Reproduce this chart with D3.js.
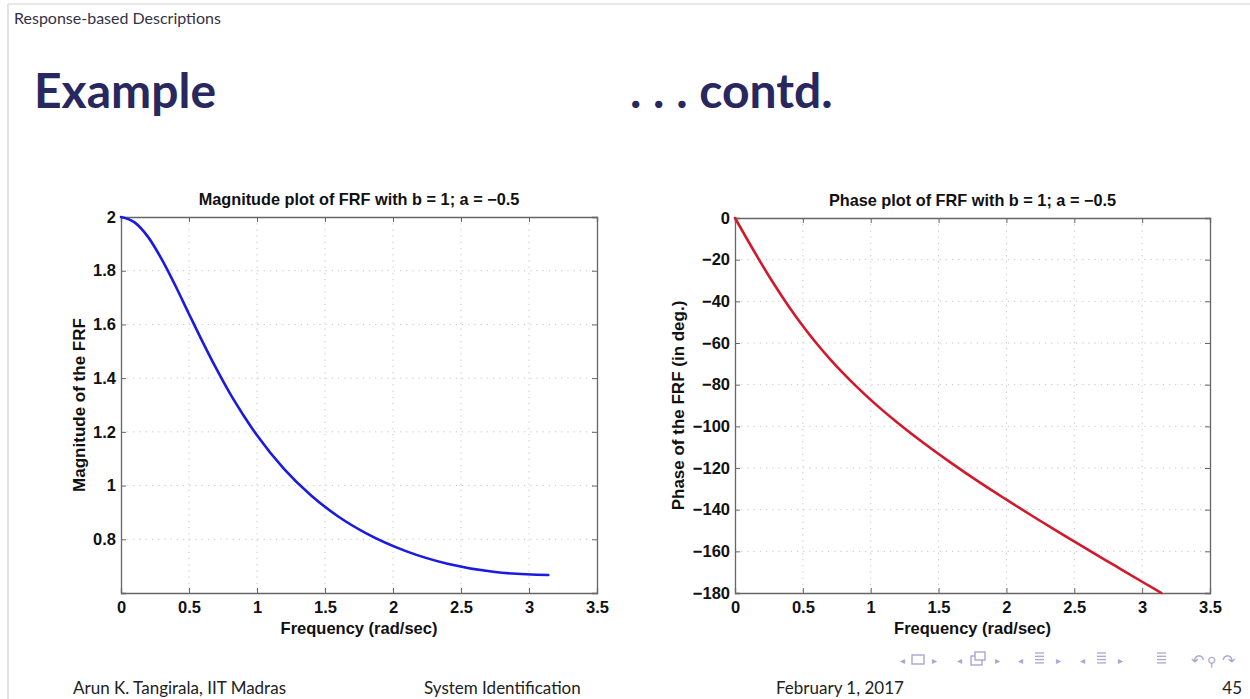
<!DOCTYPE html>
<html>
<head>
<meta charset="utf-8">
<script src="https://cdn.jsdelivr.net/npm/d3@7"></script>
<style>
  html, body { margin: 0; padding: 0; background: #fff; }
  svg { display: block; }
</style>
</head>
<body>
<svg id="chart" width="1250" height="699"></svg>
<script>
// ---------- data ----------
const freq = [0, 0.1, 0.2, 0.3, 0.4, 0.5, 0.6, 0.7, 0.8, 0.9, 1.0, 1.2, 1.4, 1.6, 1.8, 2.1, 2.4, 2.75, 3.1416];
const magnitude = [2.0, 1.98, 1.925, 1.842, 1.744, 1.639, 1.535, 1.436, 1.344, 1.262, 1.187, 1.061, 0.962, 0.884, 0.823, 0.755, 0.709, 0.678, 0.667];

const phaseFreq = [0, 0.1, 0.2, 0.3, 0.4, 0.5, 0.6, 0.7, 0.8, 0.9, 1.0, 1.2, 1.4, 1.6, 1.8, 2.0, 2.2, 2.4, 2.6, 2.8, 3.0, 3.1416];
const phase = [0, -11.4, -22.5, -33.0, -42.8, -51.8, -60.1, -67.7, -74.7, -81.2, -87.3, -98.4, -108.5, -117.9, -126.8, -135.2, -143.4, -151.4, -159.2, -166.9, -174.6, -180];

const xTicks = [0, 0.5, 1, 1.5, 2, 2.5, 3, 3.5];
const magTicks = [0.8, 1, 1.2, 1.4, 1.6, 1.8, 2];
const phaseTicks = [0, -20, -40, -60, -80, -100, -120, -140, -160, -180];

const svg = d3.select("#chart");
const plotFont = "'Liberation Sans', Arial, Helvetica, sans-serif";
const slideFont = "Lato, 'Open Sans', 'DejaVu Sans', sans-serif";

// ---------- slide frame ----------
svg.append("line").attr("x1", 8).attr("x2", 8).attr("y1", 4).attr("y2", 699)
  .attr("stroke", "#d8d8d8").attr("stroke-width", 1.5);
svg.append("line").attr("x1", 8).attr("x2", 1250).attr("y1", 4).attr("y2", 4)
  .attr("stroke", "#e2e2e2").attr("stroke-width", 1.5);

svg.append("text").attr("x", 14).attr("y", 24).text("Response-based Descriptions")
  .attr("font-family", slideFont).attr("font-size", 16).attr("fill", "#333345");

svg.append("text").attr("x", 34).attr("y", 108).text("Example")
  .attr("font-family", slideFont).attr("font-weight", "bold").attr("font-size", 48).attr("fill", "#28285e");
svg.append("text").attr("x", 630).attr("y", 108).text(". . . contd.")
  .attr("font-family", slideFont).attr("font-weight", "bold").attr("font-size", 48).attr("fill", "#28285e");

// footer
const footer = [["Arun K. Tangirala, IIT Madras", 73], ["System Identification", 424], ["February 1, 2017", 776]];
footer.forEach(f => svg.append("text").attr("x", f[1]).attr("y", 694).text(f[0])
  .attr("font-family", slideFont).attr("font-size", 17).attr("fill", "#222"));
svg.append("text").attr("x", 1242).attr("y", 694).attr("text-anchor", "end").text("45")
  .attr("font-family", slideFont).attr("font-size", 17).attr("fill", "#222");

// navigation symbols
const navCol = "#aaa5d2";
const nav = svg.append("g").attr("font-family", "'DejaVu Sans', sans-serif").attr("fill", navCol);
[["◂", 900], ["▸", 932], ["◂", 957], ["▸", 995], ["◂", 1018], ["▸", 1056], ["◂", 1080], ["▸", 1118]].forEach(d =>
  nav.append("text").attr("x", d[1]).attr("y", 664).text(d[0]).attr("font-size", 10));
nav.append("rect").attr("x", 912).attr("y", 655).attr("width", 12).attr("height", 9).attr("fill", "none").attr("stroke", navCol).attr("stroke-width", 1.4);
nav.append("rect").attr("x", 971).attr("y", 656).attr("width", 11).attr("height", 9).attr("fill", "none").attr("stroke", navCol).attr("stroke-width", 1.4);
nav.append("rect").attr("x", 975).attr("y", 652).attr("width", 10).attr("height", 8).attr("fill", "#fff").attr("stroke", navCol).attr("stroke-width", 1.4);
[1035, 1097, 1157].forEach(x => {
  for (let i = 0; i < 4; i++) nav.append("line").attr("x1", x).attr("x2", x + 9).attr("y1", 653 + i * 3.3).attr("y2", 653 + i * 3.3)
    .attr("stroke", navCol).attr("stroke-width", 1.3);
});
nav.append("text").attr("x", 1191).attr("y", 666).text("↶").attr("font-size", 16);
nav.append("text").attr("x", 1207).attr("y", 666).text("⚲").attr("font-size", 13);
nav.append("text").attr("x", 1222).attr("y", 666).text("↷").attr("font-size", 16);

// ---------- plot helper ----------
function drawPlot(opt) {
  const { left, top, width, height } = opt;
  const x = d3.scaleLinear().domain([0, 3.5]).range([left, left + width]);
  const y = d3.scaleLinear().domain(opt.yDomain).range([top + height, top]);
  const g = svg.append("g");

  // grid (dotted)
  g.append("g").selectAll("line").data(xTicks.slice(1, -1)).join("line")
    .attr("x1", d => x(d)).attr("x2", d => x(d)).attr("y1", top).attr("y2", top + height)
    .attr("stroke", "#c4c4c4").attr("stroke-width", 1).attr("stroke-dasharray", "1.2,5");
  g.append("g").selectAll("line").data(opt.yTicks.filter(t => y(t) > top + 1 && y(t) < top + height - 1)).join("line")
    .attr("x1", left).attr("x2", left + width).attr("y1", d => y(d)).attr("y2", d => y(d))
    .attr("stroke", "#c4c4c4").attr("stroke-width", 1).attr("stroke-dasharray", "1.2,5");

  // axes with inward ticks (MATLAB style)
  const axB = g.append("g").attr("transform", `translate(0,${top + height})`)
    .call(d3.axisBottom(x).tickValues(xTicks).tickSize(-5).tickPadding(8).tickFormat(d3.format("")));
  const axT = g.append("g").attr("transform", `translate(0,${top})`)
    .call(d3.axisTop(x).tickValues(xTicks).tickSize(-5).tickFormat(""));
  const axL = g.append("g").attr("transform", `translate(${left},0)`)
    .call(d3.axisLeft(y).tickValues(opt.yTicks).tickSize(-5).tickPadding(5).tickFormat(opt.fmt));
  const axR = g.append("g").attr("transform", `translate(${left + width},0)`)
    .call(d3.axisRight(y).tickValues(opt.yTicks).tickSize(-5).tickFormat(""));
  [axB, axT, axL, axR].forEach(a => {
    a.select(".domain").attr("stroke", "#666").attr("stroke-width", 1.3);
    a.selectAll(".tick line").attr("stroke", "#666");
    a.selectAll("text").attr("font-family", plotFont).attr("font-weight", "bold").attr("font-size", 16.5).attr("fill", "#111");
  });
  axB.selectAll("text").attr("dy", "0.71em");

  // curve
  const line = d3.line().x(d => x(d[0])).y(d => y(d[1])).curve(opt.curve);
  g.append("path").datum(opt.xs.map((v, i) => [v, opt.ys[i]]))
    .attr("d", line).attr("fill", "none").attr("stroke", opt.color).attr("stroke-width", 2.6)
    .attr("stroke-linejoin", "round").attr("stroke-linecap", "round");

  // labels
  g.append("text").attr("x", left + width / 2).attr("y", top - 12).attr("text-anchor", "middle").text(opt.title)
    .attr("font-family", plotFont).attr("font-weight", "bold").attr("font-size", 16.3).attr("fill", "#111");
  g.append("text").attr("x", left + width / 2).attr("y", top + height + 41).attr("text-anchor", "middle")
    .text("Frequency (rad/sec)")
    .attr("font-family", plotFont).attr("font-weight", "bold").attr("font-size", 16.5).attr("fill", "#111");
  g.append("text").attr("transform", `translate(${opt.yLabelX},${top + height / 2}) rotate(-90)`)
    .attr("text-anchor", "middle").text(opt.yLabel)
    .attr("font-family", plotFont).attr("font-weight", "bold").attr("font-size", 17).attr("fill", "#111");
}

drawPlot({
  left: 121, top: 217, width: 476, height: 376,
  yDomain: [0.6, 2], yTicks: magTicks, fmt: d3.format(""),
  xs: freq, ys: magnitude, color: "#1a1ae0", curve: d3.curveMonotoneX,
  title: "Magnitude plot of FRF with b = 1; a = \u22120.5",
  yLabel: "Magnitude of the FRF", yLabelX: 85
});

drawPlot({
  left: 735, top: 218, width: 475, height: 375,
  yDomain: [-180, 0], yTicks: phaseTicks, fmt: d => d === 0 ? "0" : "\u2212" + Math.abs(d),
  xs: phaseFreq, ys: phase, color: "#d4182c", curve: d3.curveMonotoneX,
  title: "Phase plot of FRF with b = 1; a = \u22120.5",
  yLabel: "Phase of the FRF (in deg.)", yLabelX: 684
});
</script>
</body>
</html>
